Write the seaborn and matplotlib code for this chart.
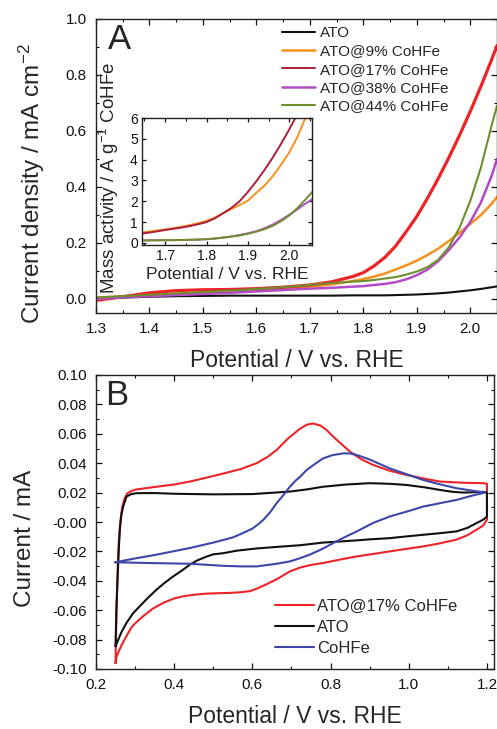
import numpy as np
import pandas as pd
import matplotlib
matplotlib.use("Agg")
import matplotlib.pyplot as plt
from matplotlib.ticker import MultipleLocator, FormatStrFormatter
import seaborn as sns

# ---------------- Panel A: LSV data ----------------
lsv_E = [1.30, 1.35, 1.40, 1.45, 1.50, 1.55, 1.60, 1.65, 1.70, 1.74, 1.78, 1.80,
         1.82, 1.84, 1.86, 1.88, 1.90, 1.92, 1.94, 1.96, 1.98, 2.00, 2.02, 2.04, 2.05]
lsv_ATO = [0.000, 0.005, 0.008, 0.010, 0.011, 0.012, 0.012, 0.012, 0.012, 0.012, 0.013, 0.013,
           0.013, 0.013, 0.014, 0.015, 0.016, 0.018, 0.020, 0.023, 0.027, 0.031, 0.036, 0.042, 0.045]
lsv_9 = [0.005, 0.010, 0.015, 0.019, 0.022, 0.026, 0.031, 0.037, 0.044, 0.052, 0.064, 0.071,
         0.080, 0.091, 0.105, 0.120, 0.137, 0.157, 0.180, 0.207, 0.237, 0.268, 0.300, 0.340, 0.365]
lsv_17 = [-0.005, 0.008, 0.022, 0.030, 0.033, 0.034, 0.037, 0.042, 0.050, 0.061, 0.080, 0.094,
          0.118, 0.148, 0.188, 0.240, 0.295, 0.360, 0.430, 0.505, 0.585, 0.670, 0.760, 0.855, 0.905]
lsv_38 = [0.000, 0.006, 0.010, 0.014, 0.018, 0.022, 0.027, 0.032, 0.037, 0.040, 0.044, 0.046,
          0.050, 0.054, 0.060, 0.070, 0.085, 0.105, 0.135, 0.175, 0.220, 0.275, 0.345, 0.440, 0.500]
lsv_44 = [0.005, 0.010, 0.015, 0.020, 0.025, 0.030, 0.036, 0.042, 0.050, 0.057, 0.062, 0.064,
          0.068, 0.073, 0.078, 0.087, 0.098, 0.114, 0.140, 0.185, 0.255, 0.350, 0.470, 0.620, 0.690]

# ---------------- Inset: mass activity ----------------
ins_E = [1.645, 1.67, 1.70, 1.72, 1.74, 1.76, 1.78, 1.80, 1.82, 1.84, 1.86, 1.88,
         1.90, 1.92, 1.94, 1.96, 1.98, 2.00, 2.02, 2.04, 2.06]
ins_9 = [0.50, 0.57, 0.65, 0.71, 0.78, 0.86, 0.95, 1.06, 1.22, 1.43, 1.63, 1.82,
         2.03, 2.40, 2.75, 3.20, 3.75, 4.35, 5.10, 6.05, 7.00]
ins_17 = [0.45, 0.52, 0.62, 0.68, 0.74, 0.81, 0.90, 1.00, 1.18, 1.42, 1.68, 2.00,
          2.45, 2.95, 3.50, 4.10, 4.75, 5.45, 6.20, 7.00, 7.80]
ins_38 = [0.12, 0.125, 0.13, 0.135, 0.14, 0.15, 0.16, 0.18, 0.21, 0.26, 0.31, 0.38,
          0.46, 0.56, 0.70, 0.88, 1.10, 1.35, 1.62, 1.90, 2.15]
ins_44 = [0.12, 0.125, 0.13, 0.135, 0.14, 0.15, 0.16, 0.18, 0.21, 0.25, 0.30, 0.36,
          0.44, 0.54, 0.66, 0.82, 1.04, 1.32, 1.68, 2.10, 2.55]

# ---------------- Panel B: CV data (forward sweep then reverse sweep) ----------------
cv_E_17 = [0.250, 0.251, 0.253, 0.255, 0.258, 0.262, 0.267, 0.273, 0.280, 0.290, 0.300, 0.355,
           0.400, 0.440, 0.480, 0.526, 0.570, 0.611, 0.640, 0.662, 0.690, 0.722, 0.740, 0.756,
           0.775, 0.790, 0.807, 0.830, 0.850, 0.880, 0.909, 0.950, 0.994, 1.040, 1.080, 1.140,
           1.190, 1.200,
           1.200, 1.190, 1.173, 1.150, 1.122, 1.080, 1.037, 0.994, 0.951, 0.910, 0.867, 0.825,
           0.781, 0.750, 0.722, 0.696, 0.662, 0.635, 0.610, 0.594, 0.570, 0.543, 0.483, 0.450,
           0.423, 0.400, 0.372, 0.345, 0.321, 0.300, 0.290, 0.278, 0.265, 0.253, 0.250]
cv_I_17 = [-0.096, -0.080, -0.055, -0.035, -0.015, 0.000, 0.010, 0.016, 0.0195, 0.021, 0.022, 0.024,
           0.0255, 0.0275, 0.030, 0.033, 0.036, 0.040, 0.0445, 0.049, 0.0565, 0.0635, 0.0663, 0.067,
           0.0655, 0.0625, 0.058, 0.0525, 0.0478, 0.0425, 0.0388, 0.035, 0.032, 0.0295, 0.0275, 0.0267,
           0.0264, 0.026,
           0.0015, -0.0025, -0.0053, -0.009, -0.012, -0.0145, -0.0166, -0.0183, -0.020, -0.0217, -0.0234, -0.0255,
           -0.0279, -0.0292, -0.031, -0.0336, -0.039, -0.0425, -0.0455, -0.047, -0.0478, -0.0482, -0.0487, -0.0495,
           -0.0505, -0.052, -0.055, -0.059, -0.064, -0.069, -0.072, -0.0776, -0.084, -0.0912, -0.096]

cv_E_ATO = [0.250, 0.252, 0.255, 0.258, 0.261, 0.265, 0.270, 0.278, 0.290, 0.304, 0.350, 0.400,
            0.500, 0.600, 0.696, 0.740, 0.781, 0.840, 0.900, 0.950, 0.994, 1.040, 1.080, 1.110,
            1.139, 1.190, 1.200,
            1.200, 1.190, 1.173, 1.150, 1.122, 1.080, 1.037, 0.994, 0.951, 0.900, 0.867, 0.781,
            0.722, 0.660, 0.611, 0.560, 0.526, 0.500, 0.483, 0.460, 0.440, 0.420, 0.398, 0.375,
            0.355, 0.335, 0.312, 0.295, 0.278, 0.265, 0.257, 0.250]
cv_I_ATO = [-0.0845, -0.060, -0.040, -0.020, -0.005, 0.005, 0.011, 0.0173, 0.019, 0.0196, 0.0197, 0.0192,
            0.0188, 0.019, 0.0207, 0.0222, 0.024, 0.0255, 0.0264, 0.026, 0.0252, 0.0236, 0.0218, 0.0206,
            0.020, 0.0205, 0.020,
            0.0037, 0.0015, -0.0008, -0.004, -0.0064, -0.0076, -0.0087, -0.0098, -0.011, -0.0118, -0.0125, -0.014,
            -0.0158, -0.017, -0.018, -0.0195, -0.0212, -0.022, -0.0235, -0.026, -0.029, -0.033, -0.0369, -0.0415,
            -0.046, -0.051, -0.0573, -0.062, -0.0686, -0.075, -0.080, -0.0845]

cv_E_Co = [0.249, 0.300, 0.355, 0.440, 0.500, 0.550, 0.580, 0.600, 0.615, 0.628, 0.645, 0.662,
           0.680, 0.696, 0.710, 0.722, 0.739, 0.760, 0.781, 0.805, 0.833, 0.850, 0.867, 0.900,
           0.951, 1.000, 1.037, 1.080, 1.122, 1.160, 1.195,
           1.160, 1.122, 1.080, 1.037, 1.000, 0.951, 0.910, 0.867, 0.840, 0.807, 0.780, 0.747,
           0.720, 0.696, 0.660, 0.611, 0.570, 0.526, 0.440, 0.355, 0.249]
cv_I_Co = [-0.0274, -0.0248, -0.0222, -0.0177, -0.014, -0.0105, -0.007, -0.0045, -0.0015, 0.0015, 0.0065, 0.0128,
           0.0185, 0.024, 0.028, 0.0308, 0.0354, 0.0395, 0.0433, 0.0455, 0.0467, 0.0466, 0.0456, 0.0425,
           0.0365, 0.032, 0.0286, 0.0256, 0.023, 0.0214, 0.020,
           0.0178, 0.015, 0.0128, 0.0105, 0.0075, 0.0037, -0.0005, -0.0064, -0.0098, -0.0143, -0.0182, -0.0222,
           -0.0248, -0.0268, -0.0285, -0.0302, -0.0302, -0.0298, -0.0284, -0.028, -0.0274]

labels_A = ["ATO", "ATO@9% CoHFe", "ATO@17% CoHFe", "ATO@38% CoHFe", "ATO@44% CoHFe"]
labels_B = ["ATO@17% CoHFe", "ATO", "CoHFe"]

c_black = "#111111"
c_orange = "#F7901E"
c_red = "#EC2327"
c_purple = "#B24BC6"
c_green = "#6E8E2E"
c_blue = "#3C47A8"
c_darkred = "#A8203A"

sns.set_style("ticks")
plt.rcParams["font.family"] = ["Liberation Sans", "DejaVu Sans"]
plt.rcParams["mathtext.fontset"] = "custom"
plt.rcParams["mathtext.rm"] = "Liberation Sans"
plt.rcParams["mathtext.it"] = "Liberation Sans"
plt.rcParams["mathtext.default"] = "regular"

W, H = 497, 729
fig = plt.figure(figsize=(W / 100, H / 100), dpi=100)

def fr(l, t, r, b):
    return [l / W, 1 - b / H, (r - l) / W, (b - t) / H]

axA = fig.add_axes(fr(96, 19, 497, 313))
axI = fig.add_axes(fr(142, 118, 312, 245))
axB = fig.add_axes(fr(96, 375, 494, 669))

def style(ax, lab=11, pad=6.5):
    ax.tick_params(which="both", direction="in", top=True, right=True,
                   labelsize=lab, colors="#111111", pad=pad)
    ax.tick_params(which="major", length=4.5, width=0.9)
    ax.tick_params(which="minor", length=2.5, width=0.8)
    for s in ax.spines.values():
        s.set_linewidth(1.0)
        s.set_color("#222222")

# Panel A
dfA = pd.DataFrame({"E": lsv_E, "ATO": lsv_ATO, "9": lsv_9, "17": lsv_17, "38": lsv_38, "44": lsv_44})
for key, lab, col, lw in [("ATO", labels_A[0], c_black, 1.5), ("9", labels_A[1], c_orange, 1.8),
                          ("17", labels_A[2], c_red, 2.3), ("38", labels_A[3], c_purple, 1.8),
                          ("44", labels_A[4], c_green, 1.5)]:
    sns.lineplot(data=dfA, x="E", y=key, ax=axA, color=col, lw=lw, label=lab,
                 sort=False, estimator=None)
axA.set_xlim(1.3, 2.05)
axA.set_ylim(-0.05, 1.0)
axA.xaxis.set_major_locator(MultipleLocator(0.1))
axA.xaxis.set_minor_locator(MultipleLocator(0.05))
axA.yaxis.set_major_locator(MultipleLocator(0.2))
axA.yaxis.set_minor_locator(MultipleLocator(0.1))
axA.xaxis.set_major_formatter(FormatStrFormatter("%.1f"))
axA.yaxis.set_major_formatter(FormatStrFormatter("%.1f"))
style(axA)
axA.set_xlabel("Potential / V vs. RHE", fontsize=16.5, labelpad=9)
axA.set_ylabel("Current density / mA cm$^{-2}$", fontsize=17.5)
axA.yaxis.set_label_coords(-0.123, 0.44)
axA.text(0.03, 0.898, "A", transform=axA.transAxes, fontsize=25, va="baseline", ha="left")
legA = axA.legend(loc="upper left", bbox_to_anchor=(0.464, 0.976), frameon=False,
                  fontsize=11, handlelength=2.15, handletextpad=0.33, labelspacing=0.28,
                  borderpad=0, borderaxespad=0)
legA.get_lines()[2].set_color(c_darkred)
legA.get_lines()[2].set_linewidth(1.4)

# Inset
dfI = pd.DataFrame({"E": ins_E, "9": ins_9, "17": ins_17, "38": ins_38, "44": ins_44})
for key, col in [("38", c_purple), ("44", c_green), ("9", c_orange), ("17", c_darkred)]:
    sns.lineplot(data=dfI, x="E", y=key, ax=axI, color=col, lw=1.4, sort=False, estimator=None)
axI.set_xlim(1.644, 2.055)
axI.set_ylim(-0.1, 6.0)
axI.xaxis.set_major_locator(MultipleLocator(0.1))
axI.xaxis.set_minor_locator(MultipleLocator(0.05))
axI.yaxis.set_major_locator(MultipleLocator(1))
axI.xaxis.set_major_formatter(FormatStrFormatter("%.1f"))
style(axI, lab=10, pad=3)
axI.tick_params(which="major", length=3)
axI.tick_params(which="minor", length=1.8)
axI.set_xlabel("Potential / V vs. RHE", fontsize=12.5, labelpad=3)
axI.set_ylabel("Mass activity / A g$^{-1}$ CoHFe", fontsize=13.5)
axI.yaxis.set_label_coords(-0.125, 0.53)

# Panel B
for E, I, lab, col in [(cv_E_17, cv_I_17, labels_B[0], c_red),
                       (cv_E_ATO, cv_I_ATO, labels_B[1], c_black),
                       (cv_E_Co, cv_I_Co, labels_B[2], c_blue)]:
    sns.lineplot(x=E, y=I, ax=axB, color=col, lw=1.5, label=lab, sort=False, estimator=None)
axB.set_xlim(0.2, 1.218)
axB.set_ylim(-0.10, 0.10)
axB.xaxis.set_major_locator(MultipleLocator(0.2))
axB.xaxis.set_minor_locator(MultipleLocator(0.1))
axB.yaxis.set_major_locator(MultipleLocator(0.02))
axB.yaxis.set_minor_locator(MultipleLocator(0.01))
axB.xaxis.set_major_formatter(FormatStrFormatter("%.1f"))
axB.yaxis.set_major_formatter(FormatStrFormatter("%.2f"))
style(axB)
axB.set_xlabel("Potential / V vs. RHE", fontsize=16.5, labelpad=9)
axB.set_ylabel("Current / mA", fontsize=17.5)
axB.yaxis.set_label_coords(-0.15, 0.446)
axB.text(0.022, 0.898, "B", transform=axB.transAxes, fontsize=25, va="baseline", ha="left")
axB.legend(loc="upper left", bbox_to_anchor=(0.451, 0.238), frameon=False,
           fontsize=12, handlelength=2.3, handletextpad=0.2, labelspacing=0.35,
           borderpad=0, borderaxespad=0)

fig.savefig("out.png", dpi=100)
